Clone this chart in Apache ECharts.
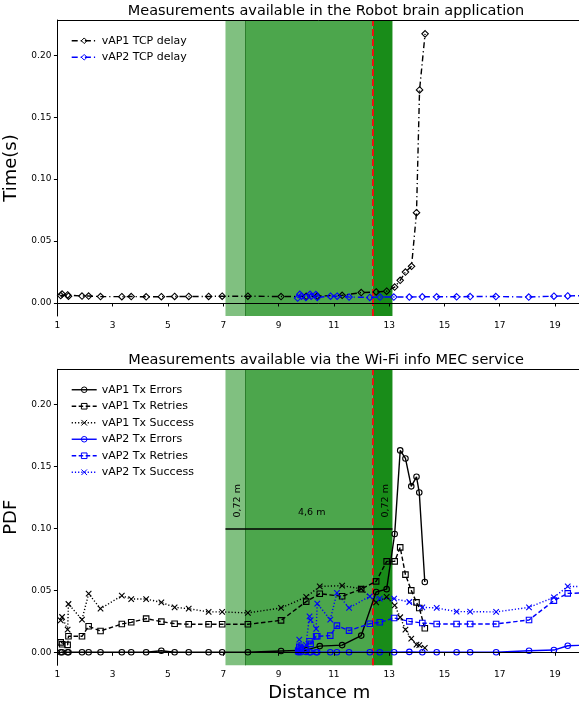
<!DOCTYPE html>
<html>
<head>
<meta charset="utf-8">
<script src="https://cdn.jsdelivr.net/npm/echarts@6/dist/echarts.min.js"></script>
<style>
  html, body { margin: 0; padding: 0; background: #fff; }
  #chart { width: 579px; height: 707px; }
</style>
</head>
<body>
<div id="chart"></div>
<script>
// x ticks and y ticks
const xTicks = [1, 3, 5, 7, 9, 11, 13, 15, 17, 19];
const yTicks = [0, 0.05, 0.1, 0.15, 0.2];

// top plot: TCP delay
const tcpDist1 = [1.12, 1.17, 1.37, 1.40, 1.89, 2.13, 2.56, 3.33, 3.67, 4.21, 4.76, 5.24, 5.75, 6.47, 6.96, 7.89, 9.09, 10.00, 10.40, 11.30, 11.99, 12.53, 12.91, 13.20, 13.40, 13.59, 13.81, 13.99, 14.10, 14.30];
const tcpDelay1 = [0.006, 0.0072, 0.0065, 0.0055, 0.0056, 0.0056, 0.0052, 0.0051, 0.0052, 0.005, 0.0051, 0.0053, 0.0053, 0.0053, 0.0055, 0.0055, 0.0052, 0.0054, 0.0056, 0.0062, 0.0084, 0.0089, 0.0095, 0.0129, 0.0183, 0.025, 0.0296, 0.0729, 0.172, 0.2173];
const tcpDist2 = [9.69, 9.77, 9.83, 9.99, 10.14, 10.18, 10.35, 10.40, 10.88, 11.12, 11.55, 12.30, 12.67, 13.17, 13.73, 14.20, 14.72, 15.44, 15.93, 16.86, 18.05, 18.96, 19.46, 20.2];
const tcpDelay2 = [0.004, 0.007, 0.0055, 0.0045, 0.007, 0.0055, 0.0068, 0.0045, 0.0055, 0.0055, 0.0048, 0.0045, 0.0048, 0.0048, 0.0048, 0.005, 0.005, 0.005, 0.0052, 0.0052, 0.0048, 0.0055, 0.0057, 0.006];

// bottom plot: Wi-Fi info PDF
const dist1 = [1.12, 1.17, 1.37, 1.40, 1.89, 2.13, 2.56, 3.33, 3.67, 4.21, 4.76, 5.24, 5.75, 6.47, 6.96, 7.89, 9.09, 10.00, 10.49, 11.30, 11.99, 12.53, 12.91, 13.20, 13.40, 13.59, 13.80, 13.99, 14.09, 14.29];
const errors1 = [0, 0, 0, 0, 0, 0, 0, 0, 0, 0, 0.0012, 0, 0, 0, 0, 0, 0.001, 0.0017, 0.005, 0.0058, 0.0135, 0.0487, 0.051, 0.0955, 0.163, 0.1565, 0.134, 0.1417, 0.129, 0.0568];
const retries1 = [0.008, 0.0065, 0.006, 0.0129, 0.0129, 0.021, 0.0172, 0.0229, 0.0242, 0.0272, 0.0248, 0.0231, 0.0226, 0.0226, 0.0226, 0.0226, 0.0258, 0.0409, 0.0473, 0.0452, 0.051, 0.0573, 0.0734, 0.0734, 0.0847, 0.0627, 0.05, 0.0403, 0.0358, 0.0194];
const success1 = [0.0258, 0.0285, 0.0183, 0.039, 0.0264, 0.0473, 0.0352, 0.0457, 0.043, 0.043, 0.0403, 0.0363, 0.0352, 0.0326, 0.0326, 0.0318, 0.0358, 0.0447, 0.0532, 0.0538, 0.0513, 0.0403, 0.0447, 0.0379, 0.0283, 0.0183, 0.011, 0.0062, 0.0058, 0.0035];
const dist2 = [9.71, 9.75, 9.80, 9.99, 10.12, 10.16, 10.36, 10.40, 10.87, 11.11, 11.55, 12.30, 12.66, 13.18, 13.73, 14.20, 14.72, 15.44, 15.93, 16.87, 18.06, 18.96, 19.46, 20.2];
const errors2 = [0, 0.0005, 0, 0.0003, 0, 0, 0, 0, 0, 0, 0, 0, 0, 0, 0.0003, 0, 0, 0, 0, 0, 0.0012, 0.0018, 0.0053, 0.0058];
const retries2 = [0.001, 0.0044, 0.003, 0.0025, 0.0089, 0.0068, 0.0129, 0.0129, 0.0135, 0.0215, 0.0175, 0.0231, 0.0242, 0.0277, 0.025, 0.0237, 0.0229, 0.0229, 0.0229, 0.0229, 0.0261, 0.0417, 0.0476, 0.048];
const success2 = [0.002, 0.0102, 0.0045, 0.006, 0.029, 0.026, 0.0189, 0.0393, 0.0264, 0.0479, 0.0358, 0.0452, 0.0433, 0.0433, 0.0406, 0.0363, 0.0358, 0.0328, 0.0328, 0.0326, 0.0363, 0.0444, 0.0532, 0.053];

// zones (m)
const zoneEdges = [7.08, 7.8, 12.4, 13.12];

const FONT = 'DejaVu Sans';
const BLACK = '#000000';
const BLUE = '#0000ff';
const CROSS = 'path://M0,0L10,10M10,0L0,10';
const CLEAR = 'rgba(0,0,0,0)';

const zip = (xs, ys) => xs.map((x, i) => [x, ys[i]]);

const chart = echarts.init(document.getElementById('chart'));

const mkSeries = (name, gi, xs, ys, color, symbol, dash, size) => ({
  name: name,
  type: 'line',
  xAxisIndex: gi,
  yAxisIndex: gi,
  data: zip(xs, ys),
  symbol: symbol,
  symbolSize: size || 5.5,
  z: 5,
  animation: false,
  lineStyle: { color: color, width: 1.4, type: dash },
  itemStyle: { color: CLEAR, borderColor: color, borderWidth: 1.1 }
});

const zoneSeries = (gi, withNotes) => {
  const s = {
    type: 'line',
    xAxisIndex: gi,
    yAxisIndex: gi,
    data: [],
    z: 1,
    silent: true,
    animation: false,
    markArea: {
      silent: true,
      data: [
        [{ xAxis: zoneEdges[0], itemStyle: { color: '#80c080' } }, { xAxis: zoneEdges[1] }],
        [{ xAxis: zoneEdges[1], itemStyle: { color: '#4ca64c' } }, { xAxis: zoneEdges[2] }],
        [{ xAxis: zoneEdges[2], itemStyle: { color: '#198c19' } }, { xAxis: zoneEdges[3] }]
      ]
    },
    markLine: {
      silent: true,
      symbol: ['none', 'none'],
      label: { show: false },
      data: [
        { xAxis: zoneEdges[1], lineStyle: { color: '#2d7d2d', width: 1, type: 'solid' } },
        { xAxis: zoneEdges[2], lineStyle: { color: '#ee1111', width: 2, type: [7, 3] } }
      ]
    }
  };
  if (withNotes) {
    s.markLine.data.push([
      { coord: [zoneEdges[0], 0.1], lineStyle: { color: BLACK, width: 1.5, type: 'solid' } },
      { coord: [zoneEdges[3], 0.1] }
    ]);
    const note = (x, y, text, rot) => ({
      coord: [x, y],
      symbol: 'circle',
      symbolSize: 0,
      label: { show: true, position: 'inside', formatter: text, rotate: rot, fontSize: 9.5, fontFamily: FONT, color: BLACK }
    });
    s.markPoint = {
      silent: true,
      data: [
        note(7.51, 0.1223, '0,72 m', 90),
        note(10.2, 0.1127, '4,6 m', 0),
        note(12.88, 0.1223, '0,72 m', 90)
      ]
    };
  }
  return s;
};

const xAxisFor = (gi) => ({
  type: 'value',
  gridIndex: gi,
  min: 1,
  max: 19.94,
  z: 10,
  name: gi === 1 ? 'Distance m' : '',
  nameLocation: 'middle',
  nameGap: 19,
  nameTextStyle: { fontSize: 18, fontFamily: FONT, color: BLACK },
  axisLine: { lineStyle: { color: BLACK, width: 1 } },
  axisTick: { customValues: xTicks, length: 3.5, lineStyle: { color: BLACK } },
  axisLabel: { customValues: xTicks, fontSize: 9, fontFamily: FONT, color: BLACK, margin: 5 },
  splitLine: { show: false }
});

const topAxisFor = (gi) => ({
  type: 'value',
  gridIndex: gi,
  position: 'top',
  min: 1,
  max: 19.94,
  z: 10,
  axisLine: { show: true, lineStyle: { color: BLACK, width: 1 } },
  axisTick: { show: false },
  axisLabel: { show: false },
  splitLine: { show: false }
});

const yAxisFor = (gi, name) => ({
  type: 'value',
  gridIndex: gi,
  min: -0.0105,
  max: 0.2285,
  z: 10,
  name: name,
  nameLocation: 'middle',
  nameGap: 26,
  nameTextStyle: { fontSize: 18, fontFamily: FONT, color: BLACK },
  axisLine: { show: true, lineStyle: { color: BLACK, width: 1 } },
  axisTick: { show: true, customValues: yTicks, length: 3.5, lineStyle: { color: BLACK } },
  axisLabel: { customValues: yTicks, fontSize: 9, fontFamily: FONT, color: BLACK, margin: 6,
    formatter: v => v.toFixed(2) },
  splitLine: { show: false }
});

const legendFor = (top, names) => ({
  orient: 'vertical',
  left: 66,
  top: top,
  data: names,
  itemWidth: 25,
  itemHeight: 7,
  itemGap: 3,
  selectedMode: false,
  itemStyle: { color: CLEAR, borderWidth: 1 },
  lineStyle: { width: 1.4 },
  textStyle: { fontSize: 11, fontFamily: FONT, color: '#000', lineHeight: 13.5 }
});

const option = {
  backgroundColor: '#ffffff',
  animation: false,
  title: [
    { text: 'Measurements available in the Robot brain application', left: 321, textAlign: 'center', top: -1,
      textStyle: { fontSize: 14.5, fontWeight: 'normal', fontFamily: FONT, color: BLACK } },
    { text: 'Measurements available via the Wi-Fi info MEC service', left: 321, textAlign: 'center', top: 348,
      textStyle: { fontSize: 14.5, fontWeight: 'normal', fontFamily: FONT, color: BLACK } }
  ],
  grid: [
    { left: 57.4, right: -2, top: 20, height: 296, outerBoundsMode: 'none', containLabel: false },
    { left: 57.4, right: -2, top: 369.3, height: 296, outerBoundsMode: 'none', containLabel: false }
  ],
  legend: [
    legendFor(29, ['vAP1 TCP delay', 'vAP2 TCP delay']),
    legendFor(378, ['vAP1 Tx Errors', 'vAP1 Tx Retries', 'vAP1 Tx Success', 'vAP2 Tx Errors', 'vAP2 Tx Retries', 'vAP2 Tx Success'])
  ],
  xAxis: [xAxisFor(0), xAxisFor(1), topAxisFor(0), topAxisFor(1)],
  yAxis: [yAxisFor(0, 'Time(s)'), yAxisFor(1, 'PDF')],
  series: [
    zoneSeries(0, false),
    zoneSeries(1, true),
    mkSeries('vAP1 TCP delay', 0, tcpDist1, tcpDelay1, BLACK, 'diamond', [6, 3, 1.2, 3], 6.5),
    mkSeries('vAP2 TCP delay', 0, tcpDist2, tcpDelay2, BLUE, 'diamond', [6, 3, 1.2, 3], 6.5),
    mkSeries('vAP1 Tx Errors', 1, dist1, errors1, BLACK, 'circle', 'solid'),
    mkSeries('vAP1 Tx Retries', 1, dist1, retries1, BLACK, 'rect', [4.5, 2.5]),
    mkSeries('vAP1 Tx Success', 1, dist1, success1, BLACK, CROSS, [1.2, 2]),
    mkSeries('vAP2 Tx Errors', 1, dist2, errors2, BLUE, 'circle', 'solid'),
    mkSeries('vAP2 Tx Retries', 1, dist2, retries2, BLUE, 'rect', [4.5, 2.5]),
    mkSeries('vAP2 Tx Success', 1, dist2, success2, BLUE, CROSS, [1.2, 2])
  ]
};

chart.setOption(option);
</script>
</body>
</html>
